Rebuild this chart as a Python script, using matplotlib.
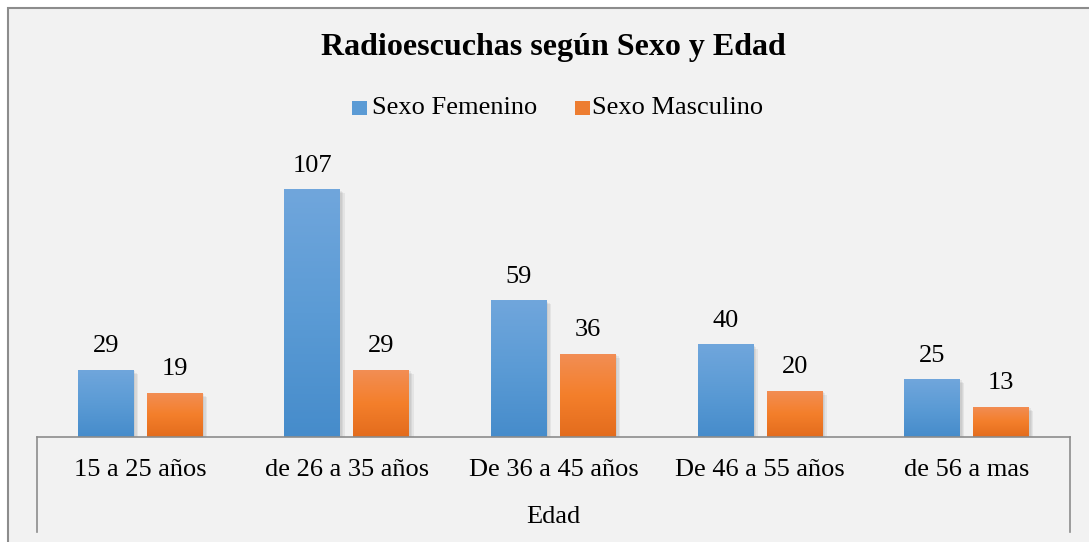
import numpy as np
import matplotlib
matplotlib.use("Agg")
import matplotlib.pyplot as plt
from matplotlib.colors import LinearSegmentedColormap
from matplotlib.patches import Rectangle
import matplotlib.patheffects as pe

categorias = ["15 a 25 años", "de 26 a 35 años", "De 36 a 45 años",
              "De 46 a 55 años", "de 56 a mas"]
femenino = [29, 107, 59, 40, 25]
masculino = [19, 29, 36, 20, 13]
series = ["Sexo Femenino", "Sexo Masculino"]

plt.rcParams['font.family'] = ['Liberation Serif', 'DejaVu Serif']
fs = 19

fig = plt.figure(figsize=(10.89, 5.42), dpi=100)
fig.patch.set_facecolor("white")

# marco exterior del grafico
marco = Rectangle((8 / 1089, -0.1), 1.1, 1.1 - 8 / 542,
                  transform=fig.transFigure, facecolor="#f2f2f2",
                  edgecolor="#8c8c8c", linewidth=1.5, zorder=-5)
fig.patches.append(marco)

ax = fig.add_axes([37 / 1089, 105 / 542, 1033 / 1089, 278 / 542])
ax.set_facecolor("none")

azul = LinearSegmentedColormap.from_list("azul", ["#468ccb", "#5b9bd5", "#70a6dc"])
naranja = LinearSegmentedColormap.from_list("naranja", ["#e36c1d", "#f47f2b", "#f28e55"])
grad = np.linspace(0, 1, 100).reshape(-1, 1)

ancho = 0.271
sep = 0.063
x = np.arange(len(categorias))
offsets = [-(ancho + sep) / 2, (ancho + sep) / 2]
# sombra difusa: varias capas suaves
sombra = [pe.SimplePatchShadow(offset=(d, -d), shadow_rgbFace="#7f7f7f", alpha=0.12)
          for d in (3, 2, 1)] + [pe.Normal()]

for datos, off, cmap, color in [(femenino, offsets[0], azul, "#5b9bd5"),
                                (masculino, offsets[1], naranja, "#ed7d31")]:
    barras = ax.bar(x + off, datos, width=ancho, color=color, zorder=2)
    for b, v in zip(barras, datos):
        b.set_path_effects(sombra)
        x0, w, h = b.get_x(), b.get_width(), b.get_height()
        im = ax.imshow(grad, cmap=cmap, origin="lower", aspect="auto",
                       extent=[x0, x0 + w, 0, h], zorder=3)
        im.set_clip_path(b)
        ax.annotate(str(v), (x0 + w / 2, h), xytext=(0, 9),
                    textcoords="offset points", ha="center", va="bottom",
                    fontsize=fs, color="black")

ax.set_xlim(-0.5, len(categorias) - 0.5)
ax.set_ylim(0, 120)

for s in ["top", "right", "left", "bottom"]:
    ax.spines[s].set_visible(False)
ax.set_yticks([])
ax.set_xticks(x)
ax.set_xticklabels(categorias, fontsize=fs)
ax.tick_params(axis="x", length=0, pad=16)

# caja del eje de categorias
ax.plot([-0.5, 4.5], [0, 0], color="#8c8c8c", lw=1.2, clip_on=False, zorder=4)
ax.plot([-0.5, -0.5], [0, -95 / 2.318], color="#8c8c8c", lw=1.2, clip_on=False, zorder=1)
ax.plot([4.5, 4.5], [0, -95 / 2.318], color="#8c8c8c", lw=1.2, clip_on=False, zorder=1)

fig.text(553 / 1089, 1 - 517 / 542, "Edad", ha="center", va="center", fontsize=fs)

fig.text(553 / 1089, 1 - 48 / 542, "Radioescuchas según Sexo y Edad",
         ha="center", va="center", fontsize=23, fontweight="bold")

# leyenda
fig.patches.append(Rectangle((352 / 1089, 1 - 115 / 542), 15 / 1089, 14 / 542,
                             transform=fig.transFigure, facecolor="#5b9bd5", zorder=5))
fig.text(372 / 1089, 1 - 108 / 542, series[0], ha="left", va="center", fontsize=fs)
fig.patches.append(Rectangle((575 / 1089, 1 - 115 / 542), 15 / 1089, 14 / 542,
                             transform=fig.transFigure, facecolor="#ed7d31", zorder=5))
fig.text(592 / 1089, 1 - 108 / 542, series[1], ha="left", va="center", fontsize=fs)

fig.savefig("out.png", dpi=100)
